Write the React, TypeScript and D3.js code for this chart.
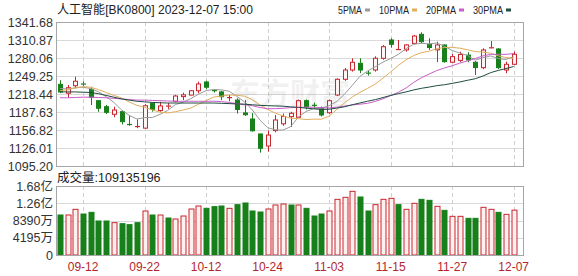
import React from 'react';
import * as d3 from 'd3';

const title = '人工智能[BK0800] 2023-12-07 15:00';
const volTitle = '成交量:109135196';

const dates = [
  '09-07','09-08','09-11','09-12','09-13','09-14','09-15','09-18','09-19','09-20',
  '09-21','09-22','09-25','09-26','09-27','09-28','10-09','10-10','10-11','10-12',
  '10-13','10-16','10-17','10-18','10-19','10-20','10-23','10-24','10-25','10-26',
  '10-27','10-30','10-31','11-01','11-02','11-03','11-06','11-07','11-08','11-09',
  '11-10','11-13','11-14','11-15','11-16','11-17','11-20','11-21','11-22','11-23',
  '11-24','11-27','11-28','11-29','11-30','12-01','12-04','12-05','12-06','12-07',
];

const opens = [
  1235, 1219.8, 1232.6, 1236, 1226.5, 1207, 1196.7, 1183.7, 1188.2, 1167,
  1162, 1160, 1202.5, 1190.1, 1197, 1205.9, 1214, 1216.6, 1224, 1239,
  1224.5, 1222, 1212, 1208, 1186, 1175.6, 1150, 1129.4, 1155.8, 1167.4,
  1179.7, 1178.6, 1207, 1199.5, 1194, 1186.4, 1216.7, 1243.6, 1259.5, 1271,
  1254.5, 1259.5, 1279.6, 1310.9, 1294, 1293.9, 1305, 1320.6, 1303.5, 1294,
  1302.4, 1272.8, 1276, 1285, 1272.7, 1263.5, 1297, 1295.5, 1259.5, 1269.3,
];
const highs = [
  1242, 1233.9, 1248, 1240, 1230.9, 1208, 1199.6, 1196.7, 1191.1, 1182,
  1175, 1201, 1203.6, 1205, 1203, 1217, 1220.7, 1225.3, 1239.5, 1241,
  1227, 1224, 1217, 1211, 1208, 1185.7, 1150.5, 1155.6, 1182.5, 1185,
  1188, 1209, 1209, 1203.6, 1197, 1209, 1245.3, 1262.9, 1279.6, 1279.6,
  1258, 1283, 1302.2, 1313.8, 1310.9, 1304, 1319.4, 1324, 1313.8, 1308,
  1303, 1287, 1290.8, 1290, 1275, 1296.7, 1309, 1297, 1273.8, 1291,
];
const lows = [
  1220, 1211.6, 1228.2, 1232, 1199.6, 1188, 1184.2, 1178.6, 1166.5, 1164,
  1160, 1159, 1188.2, 1188, 1193, 1204, 1208, 1216, 1219.7, 1226.5,
  1221, 1208, 1206, 1185, 1181, 1154, 1118, 1119.7, 1153, 1164,
  1162, 1177, 1192, 1194, 1180, 1185, 1215, 1241, 1256.8, 1254,
  1250, 1256.8, 1277, 1297.7, 1294, 1291, 1303.5, 1305, 1294, 1273,
  1272, 1271, 1273, 1272.8, 1251, 1261, 1296.7, 1261, 1254, 1268,
];
const closes = [
  1222, 1229.2, 1240.3, 1235, 1212.8, 1194, 1187.1, 1191.1, 1171.1, 1165.5,
  1163.5, 1198.4, 1192.3, 1198, 1198.5, 1215, 1217, 1224, 1235.6, 1230,
  1224, 1213.8, 1212.5, 1192, 1183, 1155.5, 1125.5, 1148.2, 1174, 1180,
  1185.4, 1207, 1196.7, 1198.5, 1182.5, 1207, 1243.6, 1259.5, 1272.7, 1259.5,
  1253.8, 1279.6, 1299.4, 1303.5, 1295, 1302.4, 1317.7, 1308, 1298, 1302.4,
  1273.8, 1282.4, 1286, 1276.6, 1263.6, 1293.8, 1298, 1263.5, 1269.3, 1286.4,
];

// volume in 万 (10k)
const volumes = [
  9728, 9728, 11110, 9971, 10376, 8269, 8269, 7864, 7621, 7378,
  7864, 10700, 9728, 9728, 8998, 8755, 9485, 11187, 11917, 11350,
  11753, 11917, 11350, 12241, 12646, 10700, 10457, 11187, 12160, 12403,
  12160, 12160, 11350, 9485, 9971, 10700, 13539, 14026, 15485, 14107,
  10700, 12241, 13539, 13782, 12241, 11110, 12565, 13539, 13296, 11836,
  10862, 9404, 9404, 8917, 8917, 11593, 11110, 10376, 9890, 10914,
];
const volumeUp = [
  0, 1, 1, 0, 0, 0, 0, 1, 0, 0,
  0, 1, 0, 1, 0, 1, 1, 1, 1, 0,
  0, 0, 1, 0, 0, 0, 0, 1, 1, 1,
  0, 1, 0, 0, 0, 1, 1, 1, 1, 0,
  0, 1, 1, 1, 0, 1, 1, 0, 0, 1,
  0, 1, 1, 0, 0, 1, 1, 0, 1, 1,
];

const ma5 = [
  1228, 1227, 1229, 1230, 1227.8, 1222.2, 1213.8, 1204, 1191.2, 1181.8,
  1175.7, 1178, 1178.2, 1183.6, 1190.1, 1200.4, 1204.2, 1210.5, 1218, 1224.3,
  1226.1, 1225.5, 1223.1, 1214.4, 1205, 1191.3, 1173.6, 1160.8, 1157.2, 1156.6,
  1162.6, 1178.9, 1188.6, 1193.5, 1194, 1198.3, 1205.7, 1218.2, 1233.1, 1248.5,
  1257.9, 1265.1, 1273, 1279.2, 1286.3, 1296, 1303.6, 1305.3, 1304.2, 1305.7,
  1300, 1292.9, 1288.5, 1284.2, 1276.5, 1280.5, 1283.6, 1279.1, 1277.6, 1282.2,
];
const ma10 = [
  1224, 1226, 1229, 1231, 1230, 1226, 1221, 1216, 1211.7, 1204.8,
  1199, 1195.9, 1191.1, 1187.4, 1186, 1188.1, 1191.1, 1194.4, 1200.8, 1207.2,
  1213.3, 1214.8, 1216.8, 1216.2, 1214.7, 1208.7, 1199.6, 1192, 1185.8, 1180.8,
  1177, 1176.3, 1174.7, 1175.4, 1175.3, 1180.5, 1192.3, 1203.4, 1213.3, 1221.2,
  1228.1, 1235.4, 1245.6, 1256.1, 1267.4, 1276.9, 1284.3, 1289.2, 1291.7, 1296,
  1298, 1298.3, 1296.9, 1294.2, 1291.1, 1290.2, 1288.3, 1283.8, 1280.9, 1279.3,
];
const ma20 = [
  1212, 1212, 1212.5, 1213, 1213, 1212.5, 1212, 1211, 1210, 1209,
  1208, 1208, 1207.5, 1207, 1206.5, 1206, 1206, 1206, 1206, 1206,
  1206.1, 1205.4, 1204, 1201.8, 1200.3, 1198.4, 1195.3, 1193.2, 1193.3, 1194,
  1195.1, 1195.6, 1195.8, 1195.8, 1195, 1194.6, 1195.9, 1197.7, 1199.6, 1201,
  1202.5, 1205.8, 1210.2, 1215.8, 1221.4, 1228.7, 1238.3, 1246.3, 1252.5, 1258.6,
  1263, 1266.8, 1271.3, 1275.2, 1279.2, 1283.6, 1286.3, 1286.5, 1286.3, 1287.7,
];
const ma30 = [
  1222, 1222, 1222, 1221.5, 1221, 1219, 1216, 1213, 1210, 1208,
  1206, 1205, 1204, 1203.5, 1203, 1203, 1203, 1203, 1203, 1203,
  1203, 1202.5, 1202, 1201.5, 1201, 1200, 1199, 1198.5, 1198, 1197.6,
  1196.4, 1195.7, 1194.2, 1193, 1192, 1192.4, 1194.3, 1196.6, 1200, 1203.1,
  1206.1, 1208.8, 1212.4, 1215.9, 1219.1, 1222, 1225.4, 1228.2, 1230.3, 1232.7,
  1234.3, 1236.6, 1239.1, 1241.9, 1244.6, 1249.2, 1255, 1258.8, 1262, 1265.5,
];

const priceTicks = [1341.68, 1310.87, 1280.06, 1249.25, 1218.44, 1187.63, 1156.82, 1126.01, 1095.2];
const priceTickLabels = ['1341.68', '1310.87', '1280.06', '1249.25', '1218.44', '1187.63', '1156.82', '1126.01', '1095.20'];
const volTicks = [16780, 12585, 8390, 4195, 0];
const volTickLabels = ['1.68亿', '1.26亿', '8390万', '4195万', '0'];
const xTickLabels = ['09-12', '09-22', '10-12', '10-24', '11-03', '11-15', '11-27', '12-07'];
const maNames = ['5PMA', '10PMA', '20PMA', '30PMA'];

const W = 578;
const H = 276;
const L = 56;
const R = 523;
const MT = 22;
const MB = 166;
const VT = 186;
const VB = 255;

const RED = '#c8252c';
const GREEN = '#17801a';
const MA_COLORS = ['#9a9a9a', '#e2ad5c', '#c95ec9', '#1f4d42'];
const FONT = "'Liberation Sans', Arial, 'Noto Sans CJK SC', sans-serif";

export default function App() {
  const x = d3.scalePoint<string>().domain(dates).range([60, 513.7]);
  const y = d3.scaleLinear().domain([1095.2, 1341.68]).range([MB, MT]);
  const yv = d3.scaleLinear().domain([0, 16780]).range([VB, VT]);
  const mas = [ma5, ma10, ma20, ma30];
  const line = d3
    .line<number>()
    .x((_, i) => x(dates[i]) as number)
    .y((v) => y(v));

  const legendX = [338, 379, 426, 473];
  const legendW = [24, 30, 30, 30];

  return (
    <svg
      width={W}
      height={H}
      style={{ position: 'absolute', left: 0, top: 0, background: '#fff' }}
      fontFamily={FONT}
    >
      <rect x={0} y={0} width={W} height={H} fill="#fff" />
      {/* title */}
      <text x={57} y={14} fontSize={12.5} fill="#222" textLength={196} lengthAdjust="spacingAndGlyphs">
        {title}
      </text>
      {maNames.map((n, i) => (
        <g key={n}>
          <text
            x={legendX[i]}
            y={14}
            fontSize={11.5}
            fill="#222"
            textLength={legendW[i]}
            lengthAdjust="spacingAndGlyphs"
          >
            {n}
          </text>
          <rect x={legendX[i] + legendW[i] + 3} y={8.5} width={5} height={3} fill={MA_COLORS[i]} />
        </g>
      ))}

      {/* main grid */}
      {priceTicks.slice(1, -1).map((t) => (
        <line key={t} x1={L} x2={R} y1={Math.round(y(t)) + 0.5} y2={Math.round(y(t)) + 0.5} stroke="#d9d9d9" />
      ))}
      {volTicks.slice(1, -1).map((t) => (
        <line key={t} x1={L} x2={R} y1={Math.round(yv(t)) + 0.5} y2={Math.round(yv(t)) + 0.5} stroke="#d9d9d9" />
      ))}
      {xTickLabels.map((d) => {
        const xx = Math.round(x(d) as number) + 0.5;
        return (
          <g key={d}>
            <line x1={xx} x2={xx} y1={MT} y2={MB} stroke="#cfcfcf" strokeDasharray="4,3" />
            <line x1={xx} x2={xx} y1={VT} y2={VB} stroke="#cfcfcf" strokeDasharray="4,3" />
          </g>
        );
      })}

      {/* watermark */}
      <text x={290} y={104} fontSize={30} fill="#000" opacity={0.05} textAnchor="middle" fontWeight="bold" fontFamily="'Noto Sans CJK SC', sans-serif">
        东方财富
      </text>

      {/* candles */}
      {dates.map((d, i) => {
        const cx = Math.round(x(d) as number) + 0.5;
        const o = opens[i];
        const c = closes[i];
        const up = c >= o;
        const top = y(Math.max(o, c));
        const bot = y(Math.min(o, c));
        const col = up ? RED : GREEN;
        const bh = Math.max(bot - top, 0.01);
        return (
          <g key={d}>
            <line x1={cx} x2={cx} y1={y(highs[i])} y2={top} stroke={col} />
            <line x1={cx} x2={cx} y1={bot} y2={y(lows[i])} stroke={col} />
            {bot - top < 1.2 ? (
              <line x1={cx - 2.5} x2={cx + 2.5} y1={(top + bot) / 2} y2={(top + bot) / 2} stroke={col} strokeWidth={1.2} />
            ) : (
              <rect
                x={cx - 2}
                y={top}
                width={4}
                height={bh}
                fill={up ? '#fff4f4' : GREEN}
                stroke={col}
                strokeWidth={1}
              />
            )}
          </g>
        );
      })}

      {/* moving averages */}
      {mas.map((m, k) => (
        <path key={k} d={line(m) || ''} fill="none" stroke={MA_COLORS[k]} strokeWidth={1} />
      ))}

      {/* volume bars */}
      {dates.map((d, i) => {
        const cx = Math.round(x(d) as number) + 0.5;
        const up = volumeUp[i] === 1;
        const top = yv(volumes[i]);
        return (
          <rect
            key={d}
            x={cx - 2.5}
            y={top}
            width={5}
            height={VB - top}
            fill={up ? '#fff0f0' : GREEN}
            stroke={up ? RED : GREEN}
            strokeWidth={1}
          />
        );
      })}

      {/* frames */}
      <rect x={L + 0.5} y={MT + 0.5} width={R - L} height={MB - MT} fill="none" stroke="#a6a6a6" />
      <rect x={L + 0.5} y={VT + 0.5} width={R - L} height={VB - VT} fill="none" stroke="#a6a6a6" />

      {/* y labels */}
      {priceTicks.map((t, i) => (
        <text key={t} x={53} y={y(t)} dy="0.36em" fontSize={12.5} fill="#333" textAnchor="end">
          {priceTickLabels[i]}
        </text>
      ))}
      <text x={57} y={182} fontSize={12.5} fill="#222">
        {volTitle}
      </text>
      {volTicks.map((t, i) => (
        <text key={t} x={53} y={yv(t)} dy="0.36em" fontSize={12.5} fill="#333" textAnchor="end">
          {volTickLabels[i]}
        </text>
      ))}
      {xTickLabels.map((d) => (
        <text key={d} x={x(d) as number} y={271} fontSize={12} fill="#b3262d" textAnchor="middle">
          {d}
        </text>
      ))}
    </svg>
  );
}
